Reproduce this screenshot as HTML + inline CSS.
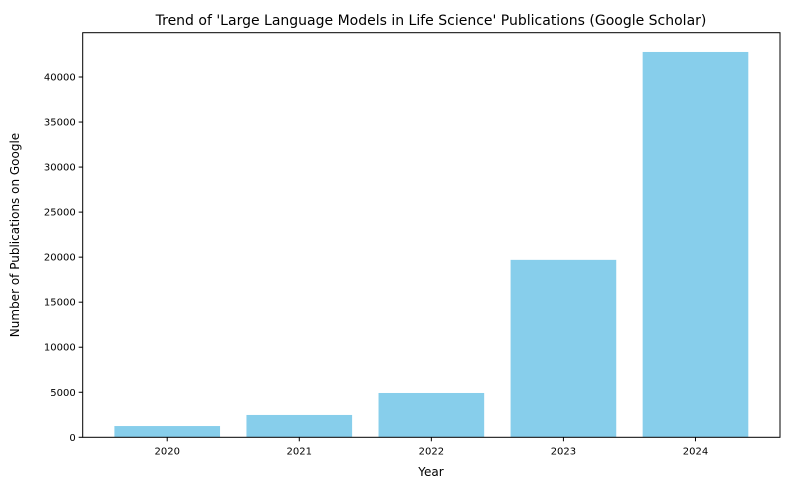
<!DOCTYPE html>
<html><head><meta charset="utf-8"><style>
body{margin:0;background:#fff;font-family:"Liberation Sans","DejaVu Sans",sans-serif;}
svg text{font-family:"DejaVu Sans","Liberation Sans",sans-serif;}
</style></head><body>
<svg id="chart" width="790" height="490" xmlns="http://www.w3.org/2000/svg">
<rect width="790" height="490" fill="#fff"/>
<g id="bars"></g>
<g id="axes"></g>
<text x="431" y="25" text-anchor="middle" font-size="14">Trend of 'Large Language Models in Life Science' Publications (Google Scholar)</text>
<text x="431" y="476" text-anchor="middle" font-size="12">Year</text>
<text transform="translate(19,235) rotate(-90)" text-anchor="middle" font-size="12">Number of Publications on Google</text>
</svg>
<script>
const categories = ["2020","2021","2022","2023","2024"];
const values = [1250, 2480, 4920, 19700, 42780];
const yTicks = [0,5000,10000,15000,20000,25000,30000,35000,40000];
const L=82.7,R=780,T=32.7,B=437.3;
const yMax = Math.max(...values)*1.05;
const n=categories.length;
const xLo=-0.64, xHi=n-1+0.64;
function xs(i){return L+(i-xLo)/(xHi-xLo)*(R-L);}
function ys(v){return B-v/yMax*(B-T);}
const NS="http://www.w3.org/2000/svg";
const bars=document.getElementById('bars'), axes=document.getElementById('axes');
const unit=(R-L)/(xHi-xLo);
values.forEach((v,i)=>{
  const r=document.createElementNS(NS,'rect');
  r.setAttribute('x',xs(i)-0.4*unit);r.setAttribute('width',0.8*unit);
  r.setAttribute('y',ys(v));r.setAttribute('height',B-ys(v));r.setAttribute('fill','#87ceeb');
  
  
  bars.appendChild(r);
  const t=document.createElementNS(NS,'line');
  t.setAttribute('x1',xs(i));t.setAttribute('x2',xs(i));t.setAttribute('y1',B);t.setAttribute('y2',B+4);t.setAttribute('stroke','#000');
  
  
  axes.appendChild(t);
  const l=document.createElementNS(NS,'text');
  l.setAttribute('x',xs(i));l.setAttribute('y',B+17);l.setAttribute('text-anchor','middle');l.setAttribute('font-size','10');
  l.textContent=categories[i];
  
  
  axes.appendChild(l);
});
yTicks.forEach(v=>{
  const t=document.createElementNS(NS,'line');
  t.setAttribute('x1',L-4);t.setAttribute('x2',L);t.setAttribute('y1',ys(v));t.setAttribute('y2',ys(v));t.setAttribute('stroke','#000');
  
  
  axes.appendChild(t);
  const l=document.createElementNS(NS,'text');
  l.setAttribute('x',L-7);l.setAttribute('y',ys(v)+3.5);l.setAttribute('text-anchor','end');l.setAttribute('font-size','10');
  l.textContent=v;
  
  
  axes.appendChild(l);
});
const f=document.createElementNS(NS,'rect');
f.setAttribute('x',L);f.setAttribute('y',T);f.setAttribute('width',R-L);f.setAttribute('height',B-T);
f.setAttribute('fill','none');f.setAttribute('stroke','#000');f.setAttribute('stroke-width','1');


axes.appendChild(f);
</script>
</body></html>
